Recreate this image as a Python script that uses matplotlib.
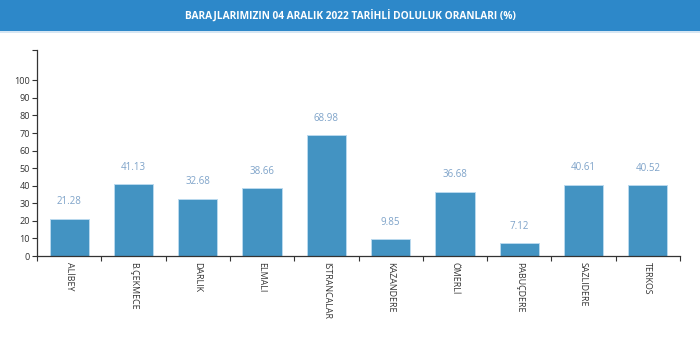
import matplotlib
matplotlib.use("Agg")
import matplotlib.pyplot as plt
from matplotlib.patches import Rectangle

plt.rcParams['font.family'] = ['Open Sans', 'DejaVu Sans']

dams = ["ALİBEY", "B.ÇEKMECE", "DARLIK", "ELMALI", "ISTRANCALAR",
        "KAZANDERE", "ÖMERLİ", "PABUÇDERE", "SAZLIDERE", "TERKOS"]
fill_pct = [21.28, 41.13, 32.68, 38.66, 68.98, 9.85, 36.68, 7.12, 40.61, 40.52]
y_ticks = list(range(0, 101, 10))
title = "BARAJLARIMIZIN 04 ARALIK 2022 TARİHLİ DOLULUK ORANLARI (%)"

W, H = 700, 337
fig = plt.figure(figsize=(W / 100, H / 100), dpi=100)
fig.patch.set_facecolor("white")

# header band
fig.patches.append(Rectangle((0, 1 - 31 / H), 1, 31 / H, transform=fig.transFigure,
                             facecolor="#2d88c9", edgecolor="none", zorder=0))
fig.patches.append(Rectangle((0, 1 - 33 / H), 1, 2 / H, transform=fig.transFigure,
                             facecolor="#d6e6f3", edgecolor="none", zorder=0))
fig.text(0.5, 1 - 15.5 / H, title, color="white", fontsize=7.3, fontweight="bold",
         ha="center", va="center")

ax = fig.add_axes([37 / W, 1 - 256 / H, (680 - 37) / W, (256 - 50) / H])
n = len(dams)
xs = list(range(n))
ax.bar(xs, fill_pct, width=0.61, color="#4393c2", edgecolor="#b9d9ee",
       linewidth=0.7, zorder=2)
for x, v in zip(xs, fill_pct):
    ax.annotate(f"{v:.2f}", (x, v), xytext=(0, 12), textcoords="offset points",
                ha="center", va="center", fontsize=7, color="#7ea3c9")

ax.set_xlim(-0.5, n - 0.5)
ax.set_ylim(0, max(fill_pct) * 1.7)

for s in ("top", "right"):
    ax.spines[s].set_visible(False)
for s in ("left", "bottom"):
    ax.spines[s].set_color("#333333")
    ax.spines[s].set_linewidth(0.9)

ax.set_yticks(y_ticks + [max(fill_pct) * 1.7])
ax.set_yticklabels([str(t) for t in y_ticks] + [""])
ax.tick_params(axis="y", length=3.6, width=0.8, color="#333333",
               labelsize=6.6, labelcolor="#333333", pad=1.5)

# category boundaries carry the x ticks; names sit at band centres
ax.set_xticks([i - 0.5 for i in range(n + 1)])
ax.set_xticklabels([""] * (n + 1))
ax.tick_params(axis="x", length=3.6, width=0.8, color="#333333")
for x, name in zip(xs, dams):
    ax.annotate(name, (x, 0), xytext=(0, -4.5), textcoords="offset points",
                rotation=270, ha="center", va="top", fontsize=6.4,
                color="#333333", annotation_clip=False)

fig.savefig("out.png", dpi=100, facecolor="white")
